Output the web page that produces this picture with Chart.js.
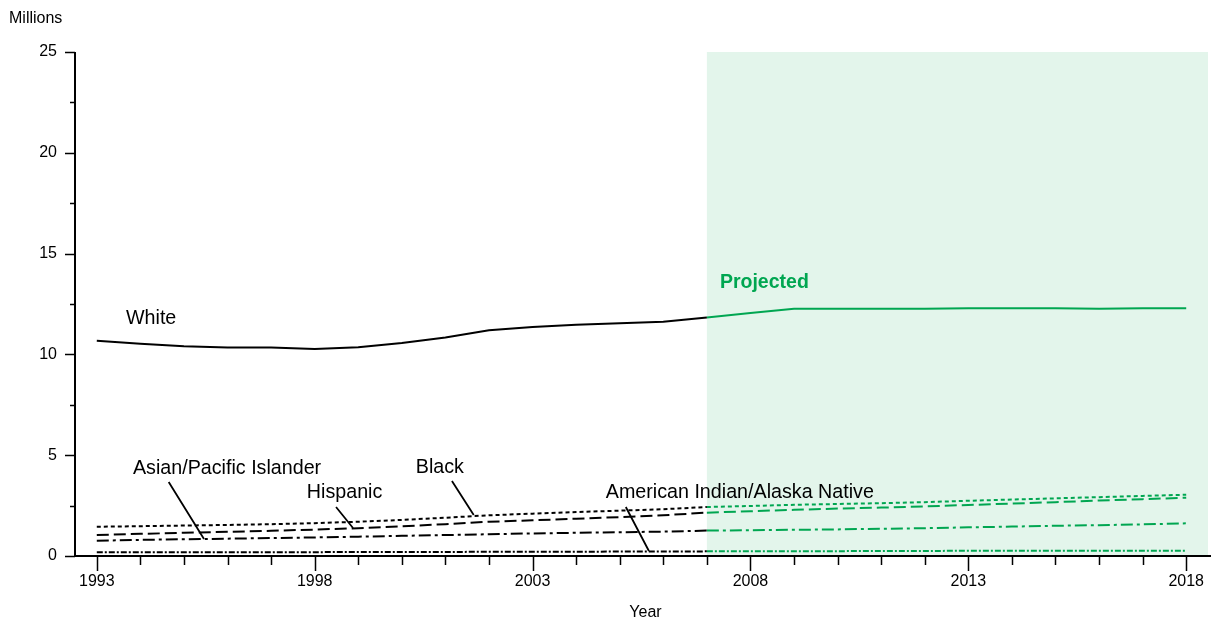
<!DOCTYPE html>
<html><head><meta charset="utf-8">
<script src="https://cdn.jsdelivr.net/npm/chart.js@4/dist/chart.umd.min.js"></script>
<style>html,body{margin:0;padding:0;background:#fff}canvas{display:block}</style>
</head><body>
<canvas id="c" width="1214" height="622"></canvas>
<script>
const years = [1993,1994,1995,1996,1997,1998,1999,2000,2001,2002,2003,2004,2005,2006,2007,2008,2009,2010,2011,2012,2013,2014,2015,2016,2017,2018];
const white    = [10.68,10.53,10.40,10.34,10.34,10.27,10.36,10.56,10.84,11.20,11.36,11.47,11.55,11.62,11.83,12.05,12.27,12.27,12.27,12.27,12.29,12.29,12.29,12.26,12.29,12.29];
const black    = [1.45,1.48,1.51,1.54,1.58,1.63,1.70,1.79,1.90,2.02,2.10,2.18,2.25,2.32,2.43,2.48,2.54,2.58,2.62,2.67,2.74,2.80,2.86,2.92,2.98,3.04];
const hispanic = [1.04,1.10,1.15,1.20,1.25,1.31,1.38,1.47,1.58,1.70,1.77,1.85,1.93,2.02,2.15,2.22,2.29,2.35,2.40,2.46,2.53,2.60,2.67,2.75,2.82,2.89];
const asian    = [0.76,0.80,0.83,0.86,0.89,0.92,0.96,1.00,1.04,1.08,1.12,1.15,1.18,1.21,1.26,1.28,1.30,1.32,1.35,1.38,1.42,1.46,1.50,1.53,1.57,1.62];
const amind    = [0.18,0.18,0.19,0.19,0.19,0.19,0.20,0.20,0.20,0.21,0.21,0.21,0.22,0.22,0.23,0.24,0.24,0.24,0.25,0.25,0.26,0.26,0.26,0.26,0.26,0.26];
const seriesNames = ["White","Black","Hispanic","Asian/Pacific Islander","American Indian/Alaska Native"];
const xTickLabels = [1993,1998,2003,2008,2013,2018];
const yTickLabels = [0,5,10,15,20,25];
const projectionStart = 2007;
const xMin = 1992.5, xMax = 2018.5;
const yMin = 0, yMax = 25;

// annotation text, in data units [year, value]
const labels = [
  {text:"White", x:1993.67, y:11.76},
  {text:"Asian/Pacific Islander", x:1993.83, y:4.32},
  {text:"Hispanic", x:1997.82, y:3.17},
  {text:"Black", x:2000.32, y:4.37},
  {text:"American Indian/Alaska Native", x:2004.68, y:3.17}
];
const projLabel = {text:"Projected", x:2007.30, y:13.54};
const leaders = [
  [1994.65,3.67,1995.46,0.84],
  [1998.49,2.43,1998.88,1.39],
  [2001.15,3.72,2001.65,2.03],
  [2005.14,2.43,2005.67,0.25]
];

const BLACK = "#000000", GREEN = "#00a651", SHADE = "#e3f5eb";
const FONT = "'Liberation Sans', Arial, Helvetica, sans-serif";
const styles = [
  {dash:[], w:2},
  {dash:[4,3], w:2},
  {dash:[12,5], w:2},
  {dash:[12,4,3,4], w:2},
  {dash:[6,2,2,2], w:2}
];
const allSeries = [white, black, hispanic, asian, amind];

const datasets = [];
allSeries.forEach((vals, si) => {
  const pts = years.map((yr,i)=>({x:yr, y:vals[i]}));
  datasets.push({label:seriesNames[si], data:pts.filter(p=>p.x<=projectionStart),
    borderColor:BLACK, borderWidth:styles[si].w, borderDash:styles[si].dash,
    pointRadius:0, fill:false, tension:0});
  datasets.push({label:seriesNames[si]+" (projected)", data:pts.filter(p=>p.x>=projectionStart),
    borderColor:GREEN, borderWidth:styles[si].w, borderDash:styles[si].dash,
    pointRadius:0, fill:false, tension:0});
});

const deco = {
  id:"deco",
  beforeDatasetsDraw(chart){
    const {ctx, chartArea:a, scales:{x,y}} = chart;
    ctx.save();
    ctx.fillStyle = SHADE;
    const x0 = x.getPixelForValue(projectionStart);
    ctx.fillRect(x0, a.top, a.right - x0, a.bottom - a.top);
    ctx.restore();
  },
  afterDraw(chart){
    const {ctx, chartArea:a, scales:{x,y}} = chart;
    ctx.save();
    ctx.strokeStyle = BLACK; ctx.lineWidth = 2; ctx.setLineDash([]);
    // axes
    ctx.beginPath();
    ctx.moveTo(a.left, a.top); ctx.lineTo(a.left, a.bottom+1);
    ctx.moveTo(a.left-1, a.bottom); ctx.lineTo(a.right+3, a.bottom);
    ctx.stroke();
    // x tick marks
    ctx.lineWidth = 1.5;
    ctx.beginPath();
    years.forEach(yr=>{
      const px = Math.round(x.getPixelForValue(yr))+0.5;
      const len = xTickLabels.includes(yr) ? 15 : 9;
      ctx.moveTo(px, a.bottom); ctx.lineTo(px, a.bottom+len);
    });
    // y tick marks
    for (let v=yMin; v<=yMax; v+=2.5){
      const py = Math.round(y.getPixelForValue(v))+0.5;
      const len = (v%5===0) ? 10 : 5;
      ctx.moveTo(a.left, py); ctx.lineTo(a.left-len, py);
    }
    ctx.stroke();
    // leader lines
    ctx.lineWidth = 1.8;
    ctx.beginPath();
    leaders.forEach(l=>{
      ctx.moveTo(x.getPixelForValue(l[0]), y.getPixelForValue(l[1]));
      ctx.lineTo(x.getPixelForValue(l[2]), y.getPixelForValue(l[3]));
    });
    ctx.stroke();
    // labels
    ctx.fillStyle = BLACK;
    ctx.textBaseline = "middle"; ctx.textAlign = "left";
    ctx.font = "19.7px " + FONT;
    labels.forEach(l=>ctx.fillText(l.text, x.getPixelForValue(l.x), y.getPixelForValue(l.y)));
    ctx.fillStyle = GREEN;
    ctx.font = "bold 19.5px " + FONT;
    ctx.fillText(projLabel.text, x.getPixelForValue(projLabel.x), y.getPixelForValue(projLabel.y));
    // axis titles
    ctx.fillStyle = BLACK;
    ctx.font = "16px " + FONT;
    ctx.textAlign = "left";
    ctx.fillText("Millions", 9, a.top - 33);
    ctx.textAlign = "center";
    ctx.fillText("Year", (a.left + a.right)/2 + 4, a.bottom + 57);
    ctx.restore();
  }
};

new Chart(document.getElementById("c"), {
  type:"line",
  data:{datasets},
  options:{
    responsive:false, animation:false, devicePixelRatio:1,
    layout:{padding:{top:52, right:6, left:0, bottom:0}},
    plugins:{legend:{display:false}, tooltip:{enabled:false}},
    scales:{
      x:{type:"linear", min:xMin, max:xMax,
        afterBuildTicks:s=>{s.ticks = xTickLabels.map(v=>({value:v}));},
        afterFit:s=>{s.height = 66;},
        grid:{display:true, drawOnChartArea:false, drawTicks:true, tickLength:15, color:"rgba(0,0,0,0)"},
        border:{display:false},
        ticks:{color:BLACK, font:{family:FONT, size:16}, padding:1, maxRotation:0, autoSkip:false, callback:v=>String(v)}
      },
      y:{min:yMin, max:yMax,
        afterBuildTicks:s=>{s.ticks = yTickLabels.map(v=>({value:v}));},
        afterFit:s=>{s.width = 75;},
        grid:{display:true, drawOnChartArea:false, drawTicks:true, tickLength:10, color:"rgba(0,0,0,0)"},
        border:{display:false},
        ticks:{color:BLACK, font:{family:FONT, size:16}, padding:8, callback:v=>String(v)}
      }
    }
  },
  plugins:[deco]
});
</script>
</body></html>
